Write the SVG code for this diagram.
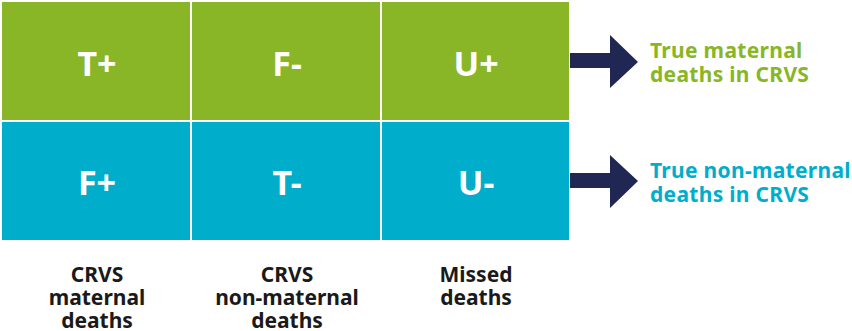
<svg xmlns="http://www.w3.org/2000/svg" width="852" height="331" viewBox="0 0 852 331">
<style>
.g{fill:#88b626}
.b{fill:#00aecc}
.ct{font-family:"Noto Sans","DejaVu Sans",sans-serif;font-weight:bold;font-size:34px;fill:#fff;text-anchor:middle}
.lab{font-family:"Noto Sans","DejaVu Sans",sans-serif;font-weight:bold;font-size:21px;fill:#1a1a1a;text-anchor:middle}
.rt{font-family:"Noto Sans","DejaVu Sans",sans-serif;font-weight:bold;font-size:21px;letter-spacing:0.3px}
.arr{fill:#1f2752}
</style>
<rect width="852" height="331" fill="#fff"/>
<g id="cell-tplus"><rect class="g" x="2" y="2" width="188" height="118"/><text class="ct" x="97" y="76">T+</text></g>
<g id="cell-fminus"><rect class="g" x="192" y="2" width="188" height="118"/><text class="ct" x="287" y="76">F-</text></g>
<g id="cell-uplus"><rect class="g" x="382" y="2" width="187" height="118"/><text class="ct" x="476" y="76">U+</text></g>
<g id="cell-fplus"><rect class="b" x="2" y="122" width="188" height="118"/><text class="ct" x="97" y="195">F+</text></g>
<g id="cell-tminus"><rect class="b" x="192" y="122" width="188" height="118"/><text class="ct" x="287" y="195">T-</text></g>
<g id="cell-uminus"><rect class="b" x="382" y="122" width="187" height="118"/><text class="ct" x="476" y="195">U-</text></g>
<g id="label-crvs-maternal"><text class="lab" x="97" y="282">CRVS</text><text class="lab" x="97" y="305">maternal</text><text class="lab" x="97" y="328">deaths</text></g>
<g id="label-crvs-nonmaternal"><text class="lab" x="287" y="282">CRVS</text><text class="lab" x="287" y="305">non-maternal</text><text class="lab" x="287" y="328">deaths</text></g>
<g id="label-missed"><text class="lab" x="476" y="282">Missed</text><text class="lab" x="476" y="305">deaths</text></g>
<g id="connectors">
<polygon class="arr" points="570,53 610,53 610,35 638,62 610,88 610,68 570,68"/>
<polygon class="arr" points="570,173 610,173 610,155 638,181 610,208 610,188 570,188"/>
</g>
<g id="out-true-maternal"><text class="rt" fill="#88b626" x="650" y="58">True maternal</text><text class="rt" fill="#88b626" x="650" y="82">deaths in CRVS</text></g>
<g id="out-true-nonmaternal"><text class="rt" fill="#00aecc" x="650" y="178">True non-maternal</text><text class="rt" fill="#00aecc" x="650" y="202">deaths in CRVS</text></g>
</svg>
